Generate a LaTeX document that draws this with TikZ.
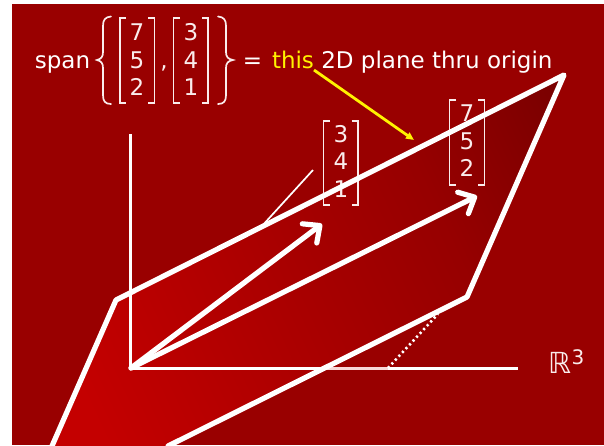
\documentclass[tikz,border=0pt]{standalone}
\usepackage{fontspec}
\setmainfont{DejaVu Sans}
\usetikzlibrary{arrows.meta}
\definecolor{bgred}{HTML}{990000}
\definecolor{softwhite}{HTML}{FAECEC}
\definecolor{palewhite}{HTML}{F8D8D8}
\pgfdeclarehorizontalshading{planeshade}{100bp}{
  rgb(0bp)=(0.77,0,0);
  rgb(30bp)=(0.77,0,0);
  rgb(48.5bp)=(0.66,0,0);
  rgb(60.6bp)=(0.59,0,0);
  rgb(73.5bp)=(0.47,0,0);
  rgb(100bp)=(0.47,0,0)}
\tikzset{
  px/.style={x=1pt,y=-1pt},
  txt/.style={anchor=base,inner sep=0pt,outer sep=0pt,text=white,font=\fontsize{23}{28}\selectfont},
  dig/.style={txt,text=softwhite},
  brk/.style={draw=softwhite,line width=1.7pt,line join=miter},
  brc/.style={draw=softwhite,line width=1.7pt,line cap=round},
  planeedge/.style={draw=white,line width=5.2pt,line cap=round,line join=round},
  axisline/.style={draw=white,line width=3pt},
  vecarrow/.style={draw=white,line width=5.2pt,line cap=round,-{Straight Barb[length=13pt,width=24pt,line width=5.2pt,round]}},
}
\begin{document}
\begin{tikzpicture}[px]
\useasboundingbox (0,0) rectangle (604,445);
\fill[white] (0,0) rectangle (604,445);
\fill[bgred] (12,4) rectangle (604,445);
\coordinate (P1) at (116,300);
\coordinate (P2) at (564,75);
\coordinate (P3) at (467,297);
\coordinate (B1) at (52,446);
\coordinate (B2) at (168,446);
\coordinate (O) at (131,368);
\coordinate (V1) at (322,224);
\coordinate (V2) at (477,196);
\coordinate (YTop) at (130,134);
\coordinate (YBot) at (130,368);
\coordinate (XEnd) at (518,368);
\coordinate (XA) at (326,368);
\coordinate (XB) at (388,368);
\coordinate (DT) at (438,314);
\coordinate (LA) at (313,170);
\coordinate (LB) at (262,226);
\coordinate (YA) at (314,70);
\coordinate (YB) at (414,140);
% plane
\begin{scope}
  \clip (P1) -- (P2) -- (P3) -- (B2) -- (B1) -- cycle;
  \shade[shading=planeshade,shading angle=25] (-22,-70) rectangle (638,590);
\end{scope}
% axes
\draw[axisline] (YBot) -- (YTop);
\draw[axisline] (O) -- (XA);
\draw[palewhite,line width=3pt] (XA) -- (XB);
\draw[axisline] (XB) -- (XEnd);
\draw[white,line width=2.6pt,dash pattern=on 2.2pt off 3pt] (XB) -- (DT);
\draw[white,line width=1.7pt] (LA) -- (LB);
% title
\node[txt] (span) at (62.5,68) {span};
\draw[brc] (111,16.5) .. controls (105,17) and (103,20) .. (103,26) -- (103,52) .. controls (103,57) and (101,59) .. (97,60) .. controls (101,61) and (103,63) .. (103,68) -- (103,95) .. controls (103,101) and (105,104) .. (111,104);
\draw[brk] (126,18) -- (120,18) -- (120,103) -- (126,103);
\draw[brk] (148,18) -- (154.5,18) -- (154.5,103) -- (148,103);
\node[dig] (a1) at (137,40) {7};
\node[dig] (a2) at (137,68) {5};
\node[dig] (a3) at (137,95) {2};
\node[dig] (comma) at (164,68) {,};
\draw[brk] (180,18) -- (173.5,18) -- (173.5,103) -- (180,103);
\draw[brk] (202,18) -- (208,18) -- (208,103) -- (202,103);
\node[dig] (b1) at (191,40) {3};
\node[dig] (b2) at (191,68) {4};
\node[dig] (b3) at (191,95) {1};
\draw[brc] (218,16.5) .. controls (224,17) and (226,20) .. (226,26) -- (226,52) .. controls (226,57) and (228,59) .. (233,60) .. controls (228,61) and (226,63) .. (226,68) -- (226,95) .. controls (226,101) and (224,104) .. (218,104);
\node[txt] (eq) at (252.5,68) {=};
\node[txt,anchor=base west,text=yellow] (this) at (272,68) {this};
\node[txt,anchor=base east] (rest) at (552.5,68) {2D plane thru origin};
% column vectors by the arrows
\draw[brk] (330,121) -- (323.5,121) -- (323.5,205) -- (330,205);
\draw[brk] (351.5,121) -- (358,121) -- (358,205) -- (351.5,205);
\node[dig] (c1) at (341,142) {3};
\node[dig] (c2) at (341,169.5) {4};
\node[dig] (c3) at (341,197) {1};
\draw[brk] (456,100) -- (449.5,100) -- (449.5,185) -- (456,185);
\draw[brk] (478,100) -- (484.5,100) -- (484.5,185) -- (478,185);
\node[dig] (d1) at (467,121) {7};
\node[dig] (d2) at (467,149) {5};
\node[dig] (d3) at (467,176.5) {2};
% plane outline
\draw[planeedge] (B1) -- (P1) -- (P2) -- (P3) -- (B2);
% vectors
\draw[vecarrow] (O) -- (V1);
\draw[vecarrow] (O) -- (V2);
% yellow pointer
\draw[yellow,line width=2.8pt,-{Triangle[length=8pt,width=7pt]}] (YA) -- (YB);
% R3
\node[anchor=base west,inner sep=0pt,text=softwhite,font=\fontsize{29}{32}\selectfont] (R) at (548.5,373) {ℝ};
\node[anchor=base west,inner sep=0pt,text=softwhite,font=\fontsize{20}{24}\selectfont] (Rsup) at (571.5,364) {3};
\end{tikzpicture}
\end{document}
